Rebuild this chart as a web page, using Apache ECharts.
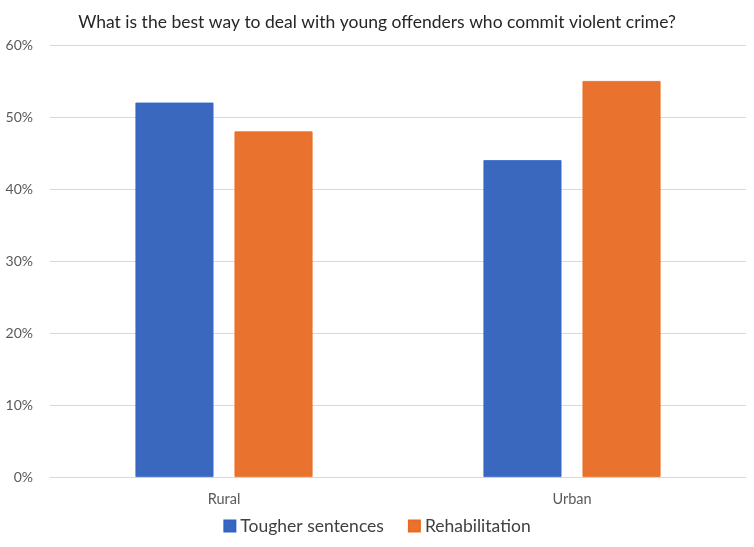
<!DOCTYPE html>
<html><head><meta charset="utf-8">
<script src="https://cdn.jsdelivr.net/npm/echarts@6/dist/echarts.min.js"></script>
<style>html,body{margin:0;padding:0;background:#fff}#c{width:754px;height:547px}</style>
</head><body><div id="c"></div>
<script>
var categories = ['Rural', 'Urban'];
var tougher = [52, 44];
var rehab = [48, 55];
var seriesNames = ['Tougher sentences', 'Rehabilitation'];
var titleText = 'What is the best way to deal with young offenders who commit violent crime?';

var chart = echarts.init(document.getElementById('c'));
var font = 'Lato, "Open Sans", sans-serif';
chart.setOption({
  animation: false,
  title: { text: titleText, left: 'center', top: 8, textStyle: { fontFamily: font, fontSize: 17.5, fontWeight: 'normal', color: '#262626' } },
  legend: { bottom: 7, left: 'center', itemWidth: 11, itemHeight: 11, itemGap: 24, icon: 'rect',
    textStyle: { fontFamily: font, fontSize: 17.5, color: '#404040' }, data: seriesNames },
  grid: { left: 50, right: 8, top: 45, bottom: 70, containLabel: false },
  xAxis: { type: 'category', data: categories,
    axisLine: { lineStyle: { color: '#d9d9d9' } }, axisTick: { show: false },
    axisLabel: { fontFamily: font, fontSize: 14.5, color: '#595959', margin: 15 } },
  yAxis: { type: 'value', min: 0, max: 60, interval: 10,
    axisLabel: { formatter: '{value}%', fontFamily: font, fontSize: 14, color: '#595959', margin: 17 },
    splitLine: { lineStyle: { color: '#d9d9d9' } }, axisLine: { show: false }, axisTick: { show: false } },
  series: [
    { name: seriesNames[0], type: 'bar', data: tougher, barWidth: 78, barGap: '27%',
      itemStyle: { color: '#3A68BE', borderColor: '#2F63C7', borderWidth: 0.8 } },
    { name: seriesNames[1], type: 'bar', data: rehab, barWidth: 78,
      itemStyle: { color: '#E9722E', borderColor: '#EC6A1E', borderWidth: 0.8 } }
  ]
});
</script></body></html>
